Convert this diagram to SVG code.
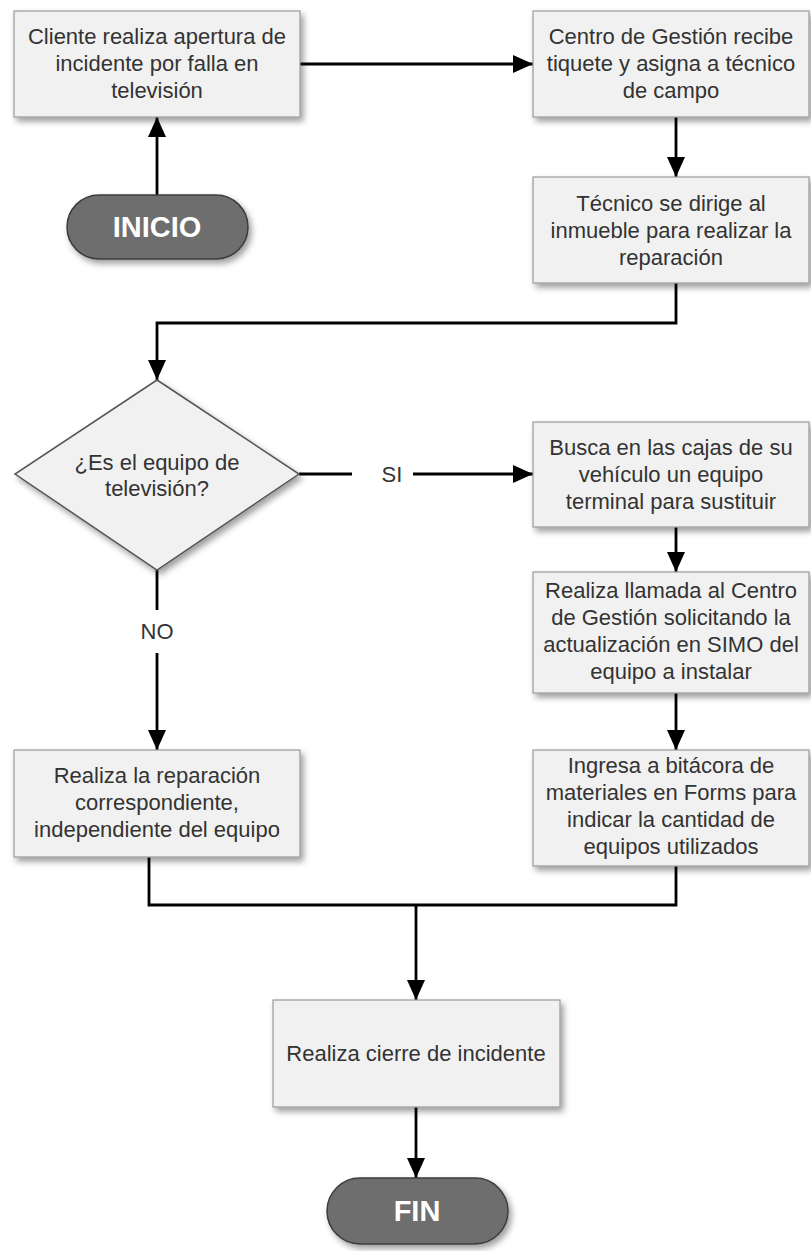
<svg xmlns="http://www.w3.org/2000/svg" width="811" height="1251" viewBox="0 0 811 1251">
<defs>
<filter id="sh" x="-10%" y="-10%" width="130%" height="140%">
<feDropShadow dx="3" dy="4" stdDeviation="3" flood-color="#000" flood-opacity="0.38"/>
</filter>
<marker id="ah" markerUnits="userSpaceOnUse" markerWidth="20" markerHeight="18" refX="20" refY="9" orient="auto">
<path d="M0,0 L20,9 L0,18 z" fill="#000"/>
</marker>
</defs>
<style>
.box{fill:#f1f1f1;stroke:#9a9a9a;stroke-width:1.2;filter:url(#sh)}
.dia{fill:#f1f1f1;stroke:#555;stroke-width:1.5;filter:url(#sh)}
.term{fill:#6e6e6e;stroke:#3c3c3c;stroke-width:1.5;filter:url(#sh)}
.t{font-family:"Liberation Sans",Arial,sans-serif;font-size:22px;fill:#333;text-anchor:middle}
.tt{font-family:"Liberation Sans",Arial,sans-serif;font-size:29px;font-weight:bold;fill:#fff;text-anchor:middle}
.c{fill:none;stroke:#000;stroke-width:2.8}
.a{marker-end:url(#ah)}
</style>
<g id="connectors">
<path class="c a" d="M300,64 H533"/>
<path class="c a" d="M157,195 V117"/>
<path class="c a" d="M676,117 V177"/>
<path class="c a" d="M676,283 V323 H157 V380"/>
<path class="c" d="M299,474 H352"/>
<path class="c a" d="M413,474 H533"/>
<path class="c" d="M157,570 V610"/>
<path class="c a" d="M157,653 V750"/>
<path class="c a" d="M676,527 V572"/>
<path class="c a" d="M676,693 V750"/>
<path class="c" d="M149,857 V905 H676 V866"/>
<path class="c a" d="M416,905 V1000"/>
<path class="c a" d="M416,1107 V1178"/>
<text class="t" x="392" y="482">SI</text>
<text class="t" x="157" y="639">NO</text>
</g>
<g id="n1">
<rect class="box" x="14" y="11" width="286" height="106"/>
<text class="t" x="157" y="44">Cliente realiza apertura de</text>
<text class="t" x="157" y="71">incidente por falla en</text>
<text class="t" x="157" y="98">televisión</text>
</g>
<g id="n2">
<rect class="box" x="533" y="11" width="276" height="106"/>
<text class="t" x="671" y="44">Centro de Gestión recibe</text>
<text class="t" x="671" y="71">tiquete y asigna a técnico</text>
<text class="t" x="671" y="98">de campo</text>
</g>
<g id="inicio">
<rect class="term" x="67" y="195" width="181" height="64" rx="32"/>
<text class="tt" x="157" y="237">INICIO</text>
</g>
<g id="n3">
<rect class="box" x="533" y="177" width="276" height="106"/>
<text class="t" x="671" y="211">Técnico se dirige al</text>
<text class="t" x="671" y="238">inmueble para realizar la</text>
<text class="t" x="671" y="265">reparación</text>
</g>
<g id="decision">
<polygon class="dia" points="157,380 299,474 157,570 15,474"/>
<text class="t" x="157" y="470">¿Es el equipo de</text>
<text class="t" x="157" y="496">televisión?</text>
</g>
<g id="n4">
<rect class="box" x="533" y="422" width="276" height="105"/>
<text class="t" x="671" y="455">Busca en las cajas de su</text>
<text class="t" x="671" y="482">vehículo un equipo</text>
<text class="t" x="671" y="509">terminal para sustituir</text>
</g>
<g id="n5">
<rect class="box" x="533" y="572" width="276" height="121"/>
<text class="t" x="671" y="598">Realiza llamada al Centro</text>
<text class="t" x="671" y="625">de Gestión solicitando la</text>
<text class="t" x="671" y="652">actualización en SIMO del</text>
<text class="t" x="671" y="679">equipo a instalar</text>
</g>
<g id="n6">
<rect class="box" x="533" y="750" width="276" height="116"/>
<text class="t" x="671" y="773">Ingresa a bitácora de</text>
<text class="t" x="671" y="800">materiales en Forms para</text>
<text class="t" x="671" y="827">indicar la cantidad de</text>
<text class="t" x="671" y="854">equipos utilizados</text>
</g>
<g id="n7">
<rect class="box" x="14" y="750" width="286" height="107"/>
<text class="t" x="157" y="783">Realiza la reparación</text>
<text class="t" x="157" y="810">correspondiente,</text>
<text class="t" x="157" y="837">independiente del equipo</text>
</g>
<g id="n8">
<rect class="box" x="273" y="1000" width="287" height="107"/>
<text class="t" x="416" y="1061">Realiza cierre de incidente</text>
</g>
<g id="fin">
<rect class="term" x="327" y="1178" width="181" height="66" rx="33"/>
<text class="tt" x="417" y="1221">FIN</text>
</g>
</svg>
